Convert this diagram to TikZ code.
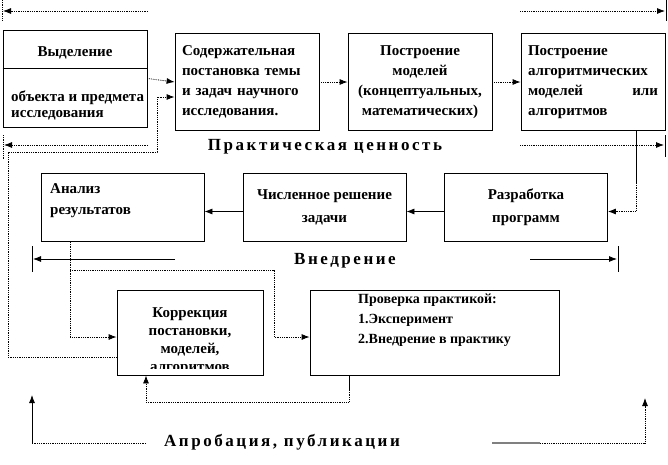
\documentclass[tikz,border=0pt]{standalone}
\usepackage{fontspec}
\setmainfont{Liberation Serif}
\newfontfamily\widefont[LetterSpace=15]{Liberation Serif}
\usetikzlibrary{arrows.meta,positioning,calc}

\begin{document}
\begin{tikzpicture}[
  x=1pt,y=-1pt,
  box/.style={draw,line width=.8pt,inner sep=0pt},
  wide/.style={minimum width=144pt,minimum height=97pt},
  mid/.style={minimum width=163pt,minimum height=68pt},
  txt/.style={font=\bfseries\fontsize{15}{#1}\selectfont,inner sep=0pt},
  txt/.default=20,
  arr/.style={-{Latex[length=8pt,width=6pt]},line width=.8pt},
  dot/.style={densely dotted,line width=.8pt},
  bar/.style={line width=.8pt},
  tag/.style={font=\widefont\bfseries\fontsize{17}{19}\selectfont}
]
\useasboundingbox (0,0) rectangle (668,464);
% top row
\node[box,wide] (sel) at (75,78.5) {};
\draw[bar] (sel.west |- 0,68) -- (sel.east |- 0,68);
\node[txt] (selA) at (75,53) {Выделение};
\node[txt=16,anchor=north west,align=left] (selB) at (11,91) {объекта и предмета\\исследования};
\node[box,wide,txt,text width=130pt,align=left] (cont) at (247,82) {Содержательная\\постановка темы\\и задач научного\\исследования.};
\node[box,wide,txt,align=center] (mod) at (420,82) {Построение\\моделей\\(концептуальных,\\математических)};
\node[box,wide,txt,text width=130pt,align=left] (alg) at (593,82) {Построение\\алгоритмических\\моделей\hfill или\\алгоритмов};
\draw[dot,arr] (sel.east) -- (cont.west);
\draw[dot,arr] (cont.east) -- (mod.west);
\draw[dot,arr] (mod.east) -- (alg.west);
% Практическая ценность
\node[tag] (prac) at (325,147) {Практическая ценность};
\coordinate (pt0) at (3,11); \coordinate (pt1) at (148,11);
\coordinate (pt2) at (520,11); \coordinate (pt3) at (665,11);
\draw[dot,arr] (pt1) -- (pt0);
\draw[dot] ($(pt0)+(-1,-11)$) -- ($(pt0)+(-1,10)$);
\draw[dot,arr] (pt2) -- (pt3);
\draw[bar] ($(pt3)+(1,-11)$) -- ($(pt3)+(1,10)$);
\coordinate (pm0) at (4,145); \coordinate (pm1) at (148,145);
\coordinate (pm2) at (520,145); \coordinate (pm3) at (664,145);
\draw[dot,line width=1.2pt,arr] (pm1) -- (pm0);
\draw[dot] ($(pm0)+(-1,-10)$) -- ($(pm0)+(-1,14)$);
\draw[dot,line width=1.2pt,arr] (pm2) -- (pm3);
\draw[bar] ($(pm3)+(1,-10)$) -- ($(pm3)+(1,12)$);
% second row
\node[box,mid] (res) at (122.5,207.5) {};
\node[txt=21,anchor=north west,align=left] (resT) at (50,183) {Анализ\\результатов};
\node[box,mid,txt=23,align=center] (num) at (324.5,207.5) {Численное решение\\задачи};
\node[box,mid,txt=23,align=center] (dev) at (526,207.5) {Разработка\\программ};
\coordinate (algB) at (636,183);
\draw[bar] ([xshift=43pt]alg.south) -- (algB);
\draw[dot,arr] (algB) |- ([yshift=-4pt]dev.east);
\draw[arr] ([yshift=-4pt]dev.west) -- ([yshift=-4pt]num.east);
\draw[arr] ([yshift=-4pt]num.west) -- ([yshift=-4pt]res.east);
% Внедрение
\node[tag] (impl) at (345,261) {Внедрение};
\coordinate (vn0) at (33,259); \coordinate (vn1) at (175,259);
\coordinate (vn2) at (530,259); \coordinate (vn3) at (617,259);
\draw[arr] (vn1) -- (vn0);
\draw[bar] ($(vn0)+(-1,-13)$) -- ($(vn0)+(-1,13)$);
\draw[arr] (vn2) -- (vn3);
\draw[bar] ($(vn3)+(1,-13)$) -- ($(vn3)+(1,13)$);
% third row
\begin{scope}
  \clip (117,290) rectangle (263,368);
  \node[txt=18,align=center] (corrT) at (190,341) {Коррекция\\постановки,\\моделей,\\алгоритмов};
\end{scope}
\node[box,minimum width=146pt,minimum height=85pt] (corr) at (190,332.5) {};
\node[box,minimum width=249pt,minimum height=85pt] (chk) at (434.5,332.5) {};
\node[txt=20,font=\bfseries\fontsize{14}{20}\selectfont,anchor=north west,align=left] (chkT) at (358,294) {Проверка практикой:\\1.Эксперимент\\2.Внедрение в практику};
\coordinate (anB) at (70,270); \coordinate (anC) at (274,270);
\draw[dot,arr] ([xshift=-52.5pt]res.south) |- ([yshift=-4.5pt]corr.west);
\draw[dot,arr] (anB) -- (anC) |- ([yshift=-4.5pt]chk.west);
\coordinate (lpA) at (8,152); \coordinate (lpB) at (157,97);
\draw[dot,arr] ([yshift=-24.5pt]corr.west) -| (lpA) -| (lpB) -- (lpB -| cont.west);
\coordinate (ckB) at (349,390); \coordinate (ckC) at (349,402);
\draw[bar] ([xshift=-85.5pt]chk.south) -- (ckB);
\draw[dot,arr] (ckB) -- (ckC) -| ([xshift=-44pt]corr.south);
% Апробация, публикации
\node[tag] (appr) at (282,442) {Апробация, публикации};
\coordinate (ap0) at (146,443); \coordinate (ap1) at (32,443); \coordinate (ap2) at (32,395);
\draw[dot] (ap0) -- (ap1);
\draw[arr] (ap1) -- (ap2);
\coordinate (ap3) at (492,443); \coordinate (ap4) at (540,443);
\coordinate (ap5) at (645,443); \coordinate (ap6) at (645,398);
\draw[gray,line width=1.2pt] (ap3) -- (ap4);
\draw[dot,arr] (ap4) -- (ap5) -- (ap6);
\end{tikzpicture}
\end{document}
